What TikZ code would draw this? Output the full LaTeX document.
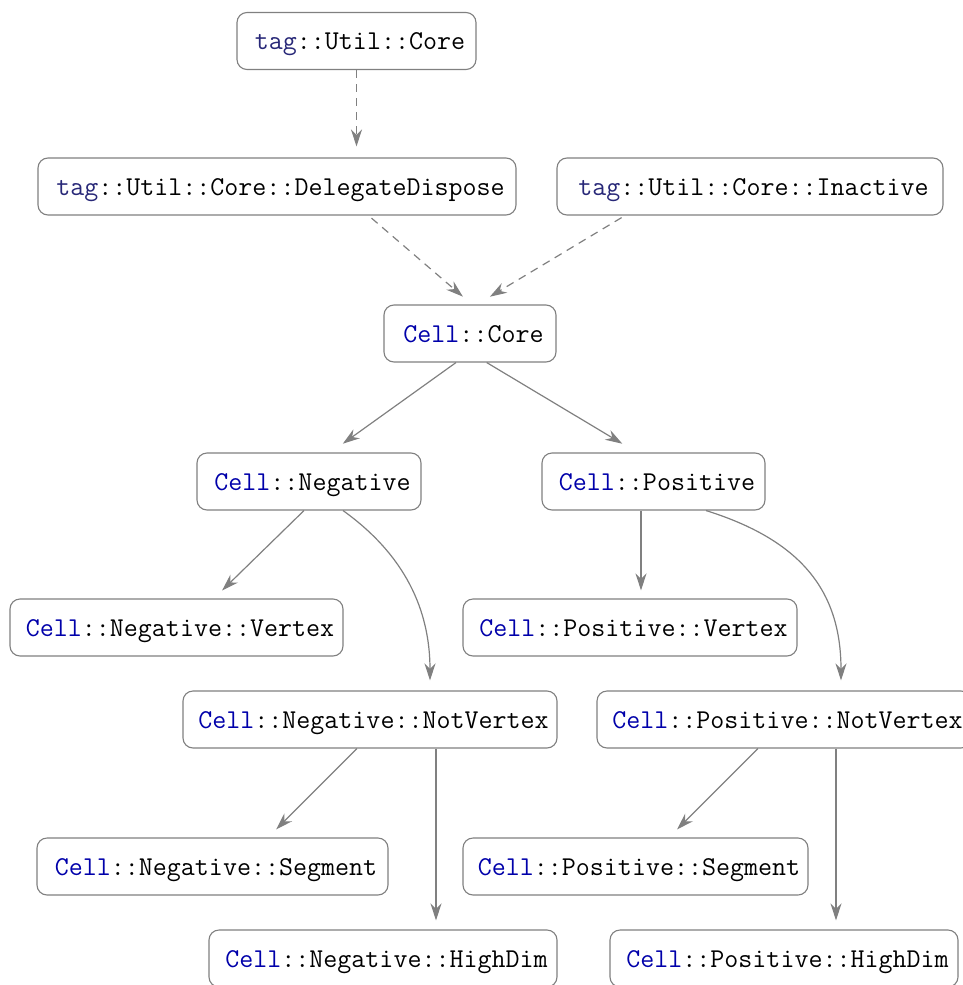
\documentclass[tikz,border=0pt]{standalone}
\usetikzlibrary{arrows.meta,calc}
\definecolor{tagc}{RGB}{40,40,120}
\definecolor{cellc}{RGB}{0,0,170}
\definecolor{edgec}{RGB}{128,128,128}
\newcommand{\tg}{\textcolor{tagc}{tag}}
\newcommand{\cl}{\textcolor{cellc}{Cell}}
\begin{document}
\begin{tikzpicture}[x=1pt,y=-1pt,
  box/.style={draw=edgec,line width=1.1pt,rounded corners=10pt,fill=white,
    minimum height=57pt,inner sep=0pt,align=center,text height=22pt,text depth=5pt,
    execute at begin node={\hspace*{7pt}},
    font=\fontsize{27.2}{32}\selectfont\ttfamily},
  edge/.style={draw=edgec,line width=1.2pt,-{Stealth[length=17pt,width=11pt]}},
  dedge/.style={edge,dash pattern=on 8pt off 6pt}]
\useasboundingbox (0,0) rectangle (962,985);
\node[box,minimum width=239pt] (t1) at (356.5,41) {\tg::Util::Core};
\node[box,minimum width=478pt] (t2) at (277,186.5) {\tg::Util::Core::DelegateDispose};
\node[box,minimum width=386pt] (t3) at (750,186.5) {\tg::Util::Core::Inactive};
\node[box,minimum width=172pt] (cc) at (470,333.5) {\cl::Core};
\node[box,minimum width=224pt] (neg) at (309,481.5) {\cl::Negative};
\node[box,minimum width=223pt] (pos) at (653.5,481.5) {\cl::Positive};
\node[box,minimum width=333pt] (nv) at (176.5,627.5) {\cl::Negative::Vertex};
\node[box,minimum width=334pt] (pv) at (630,627.5) {\cl::Positive::Vertex};
\node[box,minimum width=374pt] (nnv) at (370,719.5) {\cl::Negative::NotVertex};
\node[box,minimum width=374pt] (pnv) at (784,719.5) {\cl::Positive::NotVertex};
\node[box,minimum width=351pt] (nseg) at (212.5,866.5) {\cl::Negative::Segment};
\node[box,minimum width=345pt] (pseg) at (635.5,866.5) {\cl::Positive::Segment};
\node[box,minimum width=348pt] (nhd) at (383,958.5) {\cl::Negative::HighDim};
\node[box,minimum width=348pt] (phd) at (784,958.5) {\cl::Positive::HighDim};
% dashed edges
\draw[dedge,shorten >=11pt] (t1.south) -- (t1.south |- t2.north);
\draw[dedge,shorten <=4pt,shorten >=12pt] ($(t2.south)+(91.5,0)$) -- ($(cc.north)+(2,0)$);
\draw[dedge,shorten <=4pt,shorten >=15pt] ($(t3.south)+(-125,0)$) -- ($(cc.north)+(7,0)$);
% solid edges
\draw[edge,shorten >=15pt] ($(cc.south)+(-14,0)$) -- ($(neg.north)+(21.6,0)$);
\draw[edge,shorten >=17pt] ($(cc.south)+(16.7,0)$) -- ($(pos.north)+(-16.6,0)$);
\draw[edge,shorten >=11.4pt] ($(neg.south)+(-5,0)$) -- ($(nv.north)+(37.4,0)$);
\draw[edge,shorten >=8pt] ($(pos.south)+(-12.5,0)$) -- ($(pv.north)+(11,0)$);
\draw[edge,shorten >=10pt] ($(neg.south)+(34,0)$) .. controls (405,555) and (430,610) .. ($(nnv.north)+(60,0)$);
\draw[edge,shorten >=10pt] ($(pos.south)+(52.5,0)$) .. controls (800,540) and (841,590) .. ($(pnv.north)+(57,0)$);
\draw[edge,shorten >=11.4pt] ($(nnv.south)+(-13,0)$) -- ($(nseg.north)+(55.6,0)$);
\draw[edge,shorten >=9pt] ($(nnv.south)+(66,0)$) -- ($(nhd.north)+(53,0)$);
\draw[edge,shorten >=11.4pt] ($(pnv.south)+(-26,0)$) -- ($(pseg.north)+(33.5,0)$);
\draw[edge,shorten >=9pt] ($(pnv.south)+(52,0)$) -- ($(phd.north)+(52,0)$);
\end{tikzpicture}
\end{document}
